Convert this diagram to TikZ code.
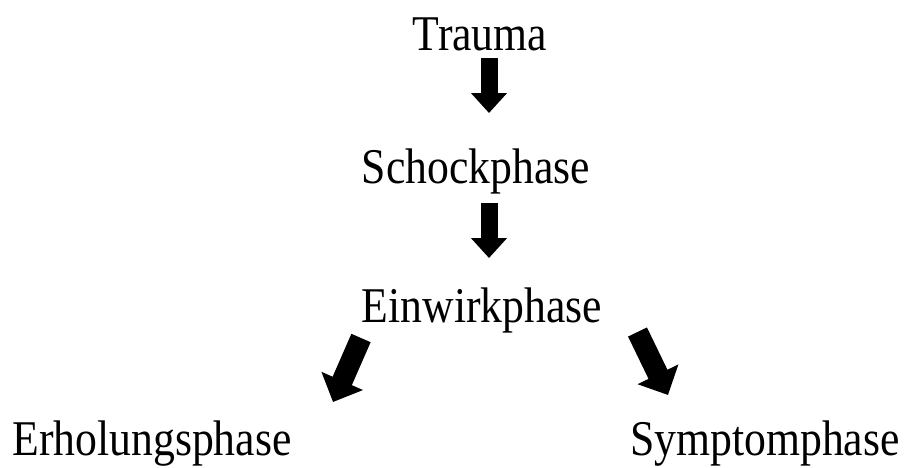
\documentclass[tikz,border=0pt]{standalone}
\usepackage{fontspec}
\setmainfont[FakeStretch=0.874]{Liberation Serif}
\usetikzlibrary{arrows.meta}

\begin{document}
\begin{tikzpicture}[x=1pt, y=1pt,
    phase/.style = {anchor=base, inner sep=0pt, font=\fontsize{50}{60}\selectfont},
    fat/.style = {line width=17pt, -{Triangle[length=20pt, width=35pt]}},
    fatdiag/.style = {line width=21pt, -{Triangle[length=23pt, width=44pt]}}]
    \useasboundingbox (0,0) rectangle (905,-467);

    % Phases
    \node[phase] (trauma) at (480,-50) {Trauma};
    \node[phase] (schock) at (476,-183) {Schockphase};
    \node[phase] (einwirk) at (482,-322) {Einwirkphase};
    \node[phase] (erhol) at (152,-455) {Erholungsphase};
    \node[phase] (sympt) at (765,-455) {Symptomphase};

    % Arrow ends
    \coordinate (a1) at (489,-58);
    \coordinate (b1) at (489,-113);
    \coordinate (a2) at (489,-203);
    \coordinate (b2) at (489,-258);
    \coordinate (a3) at (361,-338);
    \coordinate (b3) at (333,-402);
    \coordinate (a4) at (637.5,-332);
    \coordinate (b4) at (668,-395);

    % Arrows
    \draw[fat] (a1) -- (b1);
    \draw[fat] (a2) -- (b2);
    \draw[fatdiag] (a3) -- (b3);
    \draw[fatdiag] (a4) -- (b4);

\end{tikzpicture}
\end{document}
